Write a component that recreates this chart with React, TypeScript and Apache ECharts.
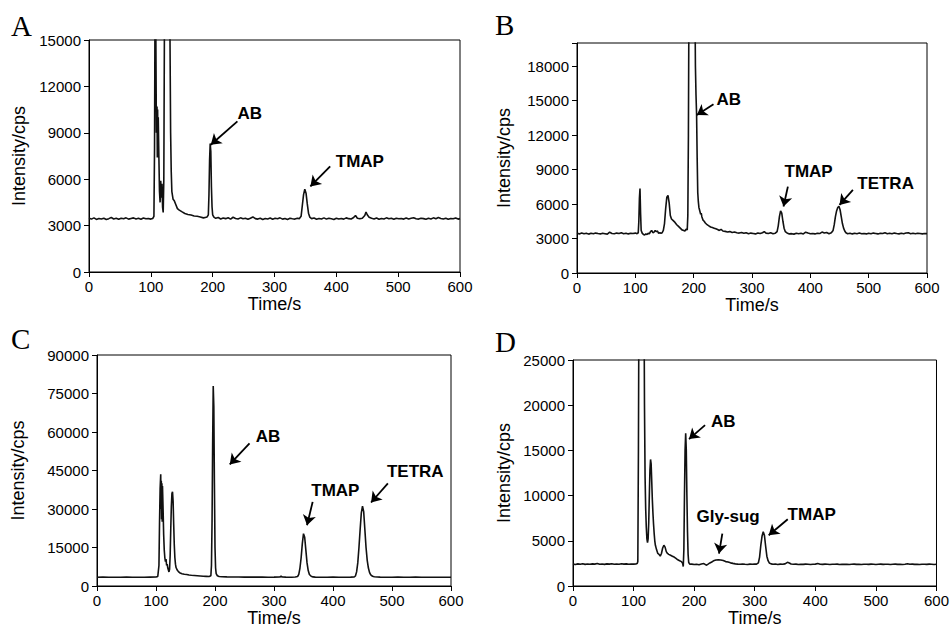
import React, { useEffect, useRef } from "react";
import * as echarts from "echarts";

// ---------------- data (time in s, intensity in cps) ----------------
const traceA: [number, number][] = [
  [0,3480],[4,3420],[8,3500],[12,3400],[16,3460],[20,3430],[24,3480],[28,3400],[32,3450],[36,3520],[40,3430],[44,3470],[48,3410],[52,3480],[56,3440],[60,3500],[64,3420],[68,3460],[72,3500],[76,3430],[80,3470],[84,3410],[88,3490],[92,3440],[96,3460],[100,3420],[103,3460],[105,3600],
  [106,8000],[107,20000],[108,16000],[109,9000],[110,10700],[110.5,7400],[111,10500],[111.5,7600],[112,10000],[113,7500],[114,5200],[115,4500],[116,5900],[117,4800],[118,5700],[119,4200],[120,3850],[121,6000],[122,16000],[123,22000],[125,25000],[127,26000],[129,25000],[130,21000],[131,15000],[132,9000],[133,6500],[134,5200],[136,4700],[138,4600],[140,4400],[143,4100],[146,4000],[150,3900],[155,3780],[160,3720],[165,3680],[170,3620],[175,3600],[180,3560],[185,3500],[188,3530],[191,3560],
  [193,3700],[194,5000],[195,7200],[196,8300],[197,7800],[198,5500],[199,4200],[200,3700],[202,3550],[205,3470],[209,3520],[213,3430],[217,3490],[221,3450],[225,3510],[229,3420],[233,3540],[237,3460],[241,3430],[245,3500],[249,3440],[253,3470],[257,3410],[261,3480],[265,3560],[269,3450],[273,3420],[277,3480],[281,3400],[285,3460],[289,3430],[293,3490],[297,3410],[301,3470],[305,3440],[309,3500],[313,3420],[317,3460],[321,3400],[325,3470],[329,3440],[333,3420],[337,3480],[340,3450],
  [343,3600],[345,4300],[347,5000],[349,5350],[351,5100],[353,4400],[355,3800],[357,3550],[360,3450],[364,3490],[368,3410],[372,3460],[376,3430],[380,3500],[384,3420],[388,3470],[392,3440],[396,3400],[400,3480],[404,3430],[408,3460],[412,3420],[416,3500],[420,3450],[424,3430],[428,3520],[431,3650],[434,3480],[438,3440],[442,3470],[446,3650],[448,3880],[450,3700],[453,3540],[457,3470],[461,3430],[465,3490],[469,3410],[473,3460],[477,3430],[481,3500],[485,3440],[489,3470],[493,3410],[497,3480],[501,3440],[505,3460],[509,3420],[513,3490],[517,3430],[521,3470],[525,3510],[529,3440],[533,3420],[537,3480],[541,3450],[545,3410],[549,3470],[553,3430],[557,3500],[561,3440],[565,3520],[569,3460],[573,3430],[577,3480],[581,3410],[585,3460],[589,3440],[593,3490],[597,3420],[600,3450]
];

const traceB: [number, number][] = [
  [0,3450],[4,3400],[8,3480],[12,3420],[16,3460],[20,3380],[24,3450],[28,3410],[32,3470],[36,3430],[40,3400],[44,3460],[48,3420],[52,3380],[56,3550],[60,3440],[64,3410],[68,3470],[72,3430],[76,3500],[80,3420],[84,3460],[88,3400],[92,3450],[96,3430],[100,3470],[103,3420],[105,3500],
  [106,4500],[107,6500],[108,7350],[109,5200],[110,3700],[112,3450],[114,3350],[116,3300],[118,3400],[120,3350],[122,3450],[124,3400],[126,3600],[128,3700],[130,3500],[132,3550],[134,3700],[136,3600],[138,3650],[140,3450],[142,3500],[144,3450],[146,3500],[148,3700],
  [150,4300],[152,5600],[154,6600],[156,6750],[158,6100],[160,5000],[162,4700],[165,4550],[168,4400],[171,4200],[174,4050],[177,3900],[180,3750],[183,3700],[185,3650],[187,3800],[189,3750],
  [190,5000],[191,12000],[192,25000],[195,40000],[199,40000],[202,25000],[203,18000],[204,15500],[205,13800],[206,10000],[207,7000],[208,6200],[209,5700],[210,5500],[211,5300],[212,5100],[213,5200],[214,4900],[216,4600],[218,4500],[220,4350],[223,4200],[226,4100],[229,4000],[232,3950],[235,3900],[238,3850],[241,3780],[244,3700],[247,3800],[250,3650],[254,3620],[258,3560],[262,3600],[266,3520],[270,3560],[274,3500],[278,3470],[282,3520],[286,3450],[290,3500],[294,3420],[298,3470],[302,3440],[306,3400],[310,3480],[314,3430],[318,3500],[321,3600],[324,3470],[328,3440],[332,3500],[336,3420],[340,3460],
  [343,3600],[345,4100],[347,4900],[349,5400],[351,5200],[353,4500],[355,3900],[357,3600],[360,3480],[364,3400],[368,3420],[372,3380],[376,3450],[380,3420],[384,3460],[388,3400],[392,3550],[396,3470],[400,3410],[404,3440],[408,3400],[412,3460],[416,3430],[420,3560],[424,3470],[428,3520],[432,3420],[436,3500],
  [439,3700],[441,4200],[443,4900],[445,5400],[447,5700],[449,5800],[451,5500],[453,4900],[455,4300],[457,3900],[459,3650],[461,3500],[464,3420],[468,3460],[472,3400],[476,3450],[480,3420],[484,3470],[488,3410],[492,3440],[496,3400],[500,3460],[504,3420],[508,3470],[512,3440],[516,3400],[520,3460],[524,3430],[528,3500],[532,3420],[536,3450],[540,3410],[544,3470],[548,3430],[552,3400],[556,3450],[560,3420],[564,3480],[568,3500],[572,3420],[576,3450],[580,3410],[584,3460],[588,3430],[592,3400],[596,3440],[600,3420]
];

const traceC: [number, number][] = [
  [0,3400],[10,3450],[20,3380],[30,3420],[40,3400],[50,3450],[60,3380],[70,3420],[80,3400],[90,3450],[100,3500],[103,3700],
  [105,8000],[106,25000],[107,38000],[108,43500],[108.5,30000],[109,41000],[109.5,26000],[110,40000],[110.5,25000],[111,39000],[112,30000],[113,20000],[114,14000],[115,11000],[116,9500],[117,10500],[118,8000],[119,8500],[120,7000],[121,6200],[122,5500],[123,6500],
  [124,12000],[125,22000],[126,31000],[127,36000],[128,36700],[129,33000],[130,24000],[131,16000],[132,11000],[133,8500],[134,7200],[136,6200],[138,5600],[140,5200],[144,4800],[148,4600],[152,4500],[156,4300],[160,4200],[165,4100],[170,4000],[175,3900],[180,3800],[185,3750],[190,3700],
  [193,4000],[194,8000],[195,25000],[196,55000],[197,77900],[198,70000],[199,40000],[200,15000],[201,7000],[202,4800],[204,4000],[207,3700],[212,3600],[220,3550],[230,3500],[240,3480],[250,3450],[260,3500],[270,3450],[280,3480],[290,3430],[300,3460],[310,3500],[312,3800],[314,3500],[320,3450],[330,3420],[336,3500],
  [340,3700],[342,4500],[344,7000],[346,11000],[348,16500],[350,20400],[352,19000],[354,14000],[356,9000],[358,6000],[360,4500],[363,3800],[366,3550],[370,3450],[380,3420],[390,3400],[400,3450],[410,3420],[420,3400],[430,3450],[436,3500],
  [438,3900],[440,5500],[442,9000],[444,15000],[446,22000],[448,28500],[450,31100],[452,29000],[454,22000],[456,15000],[458,10000],[460,7000],[462,5200],[464,4300],[467,3800],[470,3600],[475,3480],[480,3450],[490,3420],[500,3400],[510,3450],[520,3420],[530,3400],[540,3450],[550,3420],[560,3400],[570,3430],[580,3410],[590,3430],[600,3420]
];

const traceD: [number, number][] = [
  [0,2420],[4,2380],[8,2450],[12,2400],[16,2460],[20,2390],[24,2430],[28,2400],[32,2450],[36,2420],[40,2480],[44,2400],[48,2440],[52,2390],[56,2450],[60,2420],[64,2460],[68,2400],[72,2440],[76,2410],[80,2470],[84,2420],[88,2450],[92,2400],[96,2440],[100,2420],[104,2450],[106,2480],
  [107,2700],[108,15000],[109,35000],[117,35000],[118,20000],[119,12000],[120,8500],[121,6500],[122,5200],[123,4800],[124,5200],[125,7000],[126,10000],[127,12800],[128,14000],[129,13500],[130,11500],[131,9500],[132,8000],[133,6800],[134,5800],[135,5000],[136,4500],[138,4000],[140,3600],[142,3500],[144,3300],[146,3600],[148,4200],[150,4500],[152,4300],[154,3800],[156,3600],[158,3500],[161,3400],[164,3300],[167,3200],[170,3050],[173,2900],[176,2800],[179,2700],[181,2500],[182,2150],
  [183,4000],[184,10000],[185,15000],[186,16900],[187,15000],[188,10000],[189,6000],[190,3500],[191,2600],[193,2400],[196,2420],[200,2380],[204,2400],[208,2350],[212,2430],[216,2480],[220,2300],[223,2420],[226,2550],[229,2650],[232,2780],[236,2880],[240,2900],[244,2880],[248,2820],[252,2700],[256,2650],[260,2560],[264,2500],[268,2450],[272,2420],[276,2400],[280,2430],[284,2400],[288,2380],[292,2420],[296,2400],[300,2440],[303,2420],
  [306,2550],[308,3200],[310,4500],[312,5500],[314,6000],[316,5600],[318,4400],[320,3300],[322,2800],[324,2550],[327,2450],[330,2400],[334,2430],[338,2380],[342,2420],[346,2400],[350,2450],[354,2620],[357,2550],[360,2430],[364,2400],[368,2420],[372,2380],[376,2410],[380,2390],[384,2420],[388,2400],[392,2380],[396,2410],[400,2420],[404,2480],[408,2400],[412,2390],[416,2420],[420,2400],[424,2380],[428,2410],[432,2400],[436,2420],[440,2380],[444,2400],[448,2390],[452,2410],[456,2380],[460,2400],[464,2420],[468,2390],[472,2400],[476,2380],[480,2410],[484,2400],[488,2390],[492,2420],[496,2400],[500,2380],[504,2400],[508,2420],[512,2390],[516,2400],[520,2410],[524,2380],[528,2400],[532,2420],[536,2390],[540,2400],[544,2380],[548,2410],[552,2470],[556,2400],[560,2420],[564,2390],[568,2400],[572,2380],[576,2410],[580,2400],[584,2390],[588,2420],[592,2400],[596,2380],[600,2400]
];

// y-axis ranges per panel
const yMax = [15000, 20000, 90000, 25000];
const yStep = [3000, 3000, 15000, 5000];
const panelLetters = ["A", "B", "C", "D"];

// annotations: label text + its center, arrow start -> arrow tip (data coordinates)
type Ann = { text: string; lx: number; ly: number; x1: number; y1: number; x2: number; y2: number };
const annA: Ann[] = [
  { text: "AB", lx: 260, ly: 10280, x1: 240, y1: 9735, x2: 197, y2: 8230 },
  { text: "TMAP", lx: 438, ly: 7150, x1: 390, y1: 6830, x2: 358, y2: 5535 },
];
const annB: Ann[] = [
  { text: "AB", lx: 260, ly: 15090, x1: 234, y1: 14680, x2: 205.5, y2: 13730 },
  { text: "TMAP", lx: 397, ly: 8810, x1: 361.5, y1: 7510, x2: 354, y2: 5780 },
  { text: "TETRA", lx: 529, ly: 7745, x1: 473, y1: 7220, x2: 450, y2: 5920 },
];
const annC: Ann[] = [
  { text: "AB", lx: 290, ly: 58100, x1: 258.5, y1: 55550, x2: 225, y2: 47350 },
  { text: "TMAP", lx: 404, ly: 37340, x1: 365.5, y1: 32780, x2: 356, y2: 23680 },
  { text: "TETRA", lx: 539.5, ly: 44480, x1: 493, y1: 39950, x2: 464.5, y2: 32540 },
];
const annD: Ann[] = [
  { text: "AB", lx: 248, ly: 18240, x1: 218, y1: 17800, x2: 191.5, y2: 16250 },
  { text: "Gly-sug", lx: 256, ly: 7640, x1: 246.5, y1: 5800, x2: 241, y2: 3590 },
  { text: "TMAP", lx: 394, ly: 7940, x1: 354.5, y1: 7390, x2: 323, y2: 5620 },
];

const traces = [traceA, traceB, traceC, traceD];
const annotations = [annA, annB, annC, annD];

// ---------------- layout ----------------
const grids = [
  { left: 89, top: 40, width: 371, height: 232 },
  { left: 577, top: 43, width: 350, height: 230 },
  { left: 97, top: 355, width: 354, height: 231 },
  { left: 573, top: 360, width: 366, height: 226 },
];
const yNameGap = [61, 64, 70, 60];
const titlePos = [
  { left: 11, top: 11 },
  { left: 495, top: 10 },
  { left: 11, top: 324 },
  { left: 495, top: 327 },
];

const FONT = "'Liberation Sans', Arial, Helvetica, sans-serif";

export default function App() {
  const ref = useRef<HTMLDivElement>(null);
  useEffect(() => {
    if (!ref.current) return;
    const chart = echarts.init(ref.current, undefined, { renderer: "svg" });
    const option: any = {
      animation: false,
      backgroundColor: "#fff",
      title: panelLetters.map((t, i) => ({
        text: t,
        left: titlePos[i].left,
        top: titlePos[i].top,
        padding: 0,
        textStyle: { fontFamily: "'Liberation Serif', 'Times New Roman', serif", fontSize: 29, fontWeight: "normal", color: "#000" },
      })),
      grid: grids.map((g) => ({ ...g, show: true, borderColor: "#000", borderWidth: 1, backgroundColor: "transparent", containLabel: false })),
      xAxis: grids.map((_, i) => ({
        type: "value",
        gridIndex: i,
        min: 0,
        max: 600,
        interval: 100,
        name: "Time/s",
        nameLocation: "middle",
        nameGap: 20,
        nameTextStyle: { fontFamily: FONT, fontSize: 18, color: "#000" },
        axisLine: { show: true, onZero: false, lineStyle: { color: "#000", width: 1 } },
        axisTick: { show: true, length: 5, lineStyle: { color: "#000" } },
        axisLabel: { fontFamily: FONT, fontSize: 15, color: "#000", margin: 7 },
        splitLine: { show: false },
      })),
      yAxis: grids.map((_, i) => ({
        type: "value",
        gridIndex: i,
        min: 0,
        max: yMax[i],
        interval: yStep[i],
        name: "Intensity/cps",
        nameLocation: "middle",
        nameGap: yNameGap[i],
        nameTextStyle: { fontFamily: FONT, fontSize: 18, color: "#000" },
        axisLine: { show: true, lineStyle: { color: "#000", width: 1 } },
        axisTick: { show: true, length: 5, lineStyle: { color: "#000" } },
        axisLabel: {
          fontFamily: FONT,
          fontSize: 15,
          color: "#000",
          margin: 8,
          formatter: (v: number) => (v % yStep[i] === 0 ? String(v) : ""),
        },
        splitLine: { show: false },
      })),
      series: traces.map((tr, i) => ({
        type: "line",
        xAxisIndex: i,
        yAxisIndex: i,
        data: tr,
        showSymbol: false,
        symbol: "none",
        clip: true,
        lineStyle: { color: "#111", width: 1.6 },
        markLine: {
          silent: true,
          symbol: ["none", "arrow"],
          symbolSize: 10,
          label: { show: false },
          lineStyle: { color: "#000", width: 1.8, type: "solid" },
          data: annotations[i].map((a) => [{ coord: [a.x1, a.y1] }, { coord: [a.x2, a.y2] }]),
        },
        markPoint: {
          silent: true,
          symbol: "circle",
          symbolSize: 0,
          label: {
            show: true,
            position: "inside",
            formatter: "{b}",
            fontFamily: FONT,
            fontSize: 17,
            fontWeight: "bold",
            color: "#000",
          },
          data: annotations[i].map((a) => ({ name: a.text, coord: [a.lx, a.ly], value: 0 })),
        },
      })),
    };
    chart.setOption(option);
    return () => chart.dispose();
  }, []);
  return (
    <div
      ref={ref}
      style={{ position: "fixed", left: 0, top: 0, width: 952, height: 630, background: "#fff" }}
    />
  );
}
